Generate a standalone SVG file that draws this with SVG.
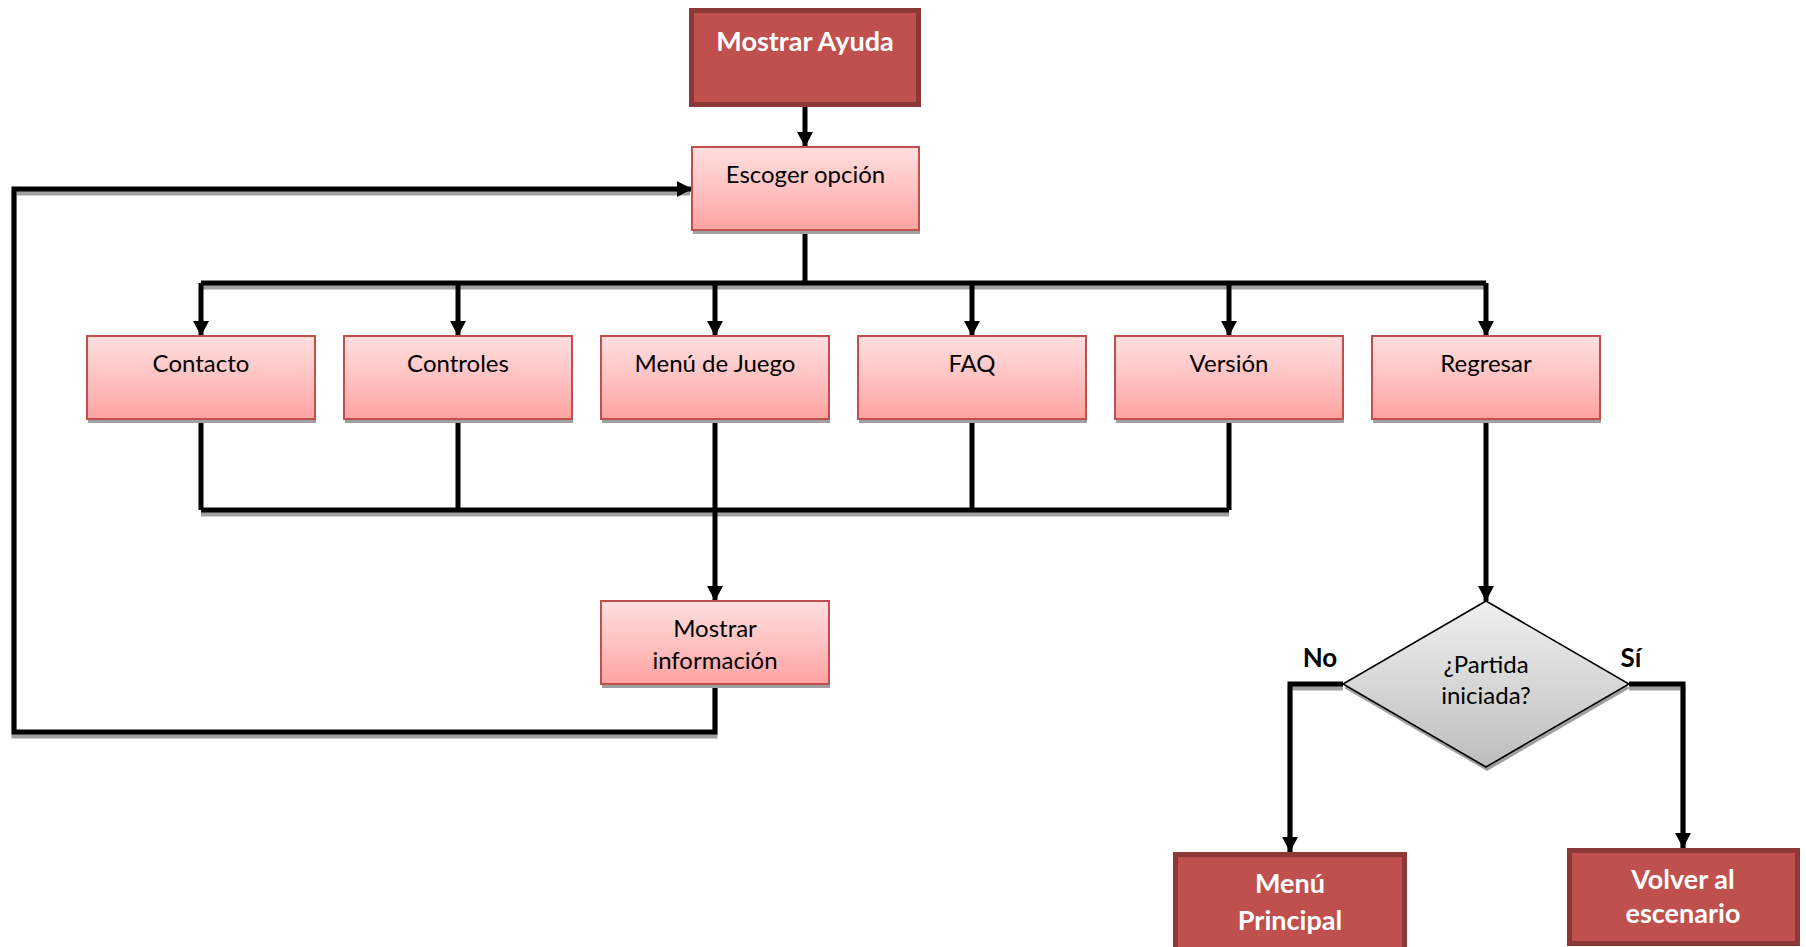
<svg xmlns="http://www.w3.org/2000/svg" width="1806" height="947" viewBox="0 0 1806 947">
<defs>
<linearGradient id="pink" x1="0" y1="0" x2="0" y2="1">
<stop offset="0" stop-color="#FFDFDF"/>
<stop offset="0.5" stop-color="#FFC2C2"/>
<stop offset="1" stop-color="#FFA3A2"/>
</linearGradient>
<linearGradient id="grey" x1="0" y1="0" x2="0" y2="1">
<stop offset="0" stop-color="#F0F0F0"/>
<stop offset="1" stop-color="#BDBDBD"/>
</linearGradient>
<marker id="arr" markerUnits="userSpaceOnUse" markerWidth="16" markerHeight="16" refX="15" refY="8" orient="auto">
<path d="M0,0 L15,8 L0,16 Z" fill="#000"/>
</marker>
</defs>
<style>
.lite{fill:url(#pink);stroke:#C0504D;stroke-width:2}
.dark{fill:#C0504D;stroke:#8C3836;stroke-width:5}
.shad{fill:#A0A0A0;stroke:none}
.dia{fill:url(#grey);stroke:#000;stroke-width:1.6}
.t{font-family:Lato,"Open Sans",sans-serif;font-size:24px;fill:#000;text-anchor:middle}
.tb{font-family:Lato,"Open Sans",sans-serif;font-size:27px;font-weight:bold;fill:#fff;text-anchor:middle}
.lb{font-family:Lato,"Open Sans",sans-serif;font-size:26px;font-weight:bold;fill:#000;text-anchor:middle}
.c{fill:none;stroke:#000;stroke-width:5}
.cs{fill:none;stroke:#A0A0A0;stroke-width:5}
</style>
<g id="connectors">
<g transform="translate(0,4)">
<path class="cs" d="M201,283 H1486"/>
<path class="cs" d="M201,510 H1229"/>
<path class="cs" d="M715,684 V732 H14 V189 H690"/>
<path class="cs" d="M1343,684 H1290 V850"/>
<path class="cs" d="M1629,684 H1683 V846"/>
</g>
<path class="c" d="M805,107 V147" marker-end="url(#arr)"/>
<path class="c" d="M805,230 V283"/>
<path class="c" d="M201,283 H1486"/>
<path class="c" d="M201,283 V336" marker-end="url(#arr)"/>
<path class="c" d="M458,283 V336" marker-end="url(#arr)"/>
<path class="c" d="M715,283 V336" marker-end="url(#arr)"/>
<path class="c" d="M972,283 V336" marker-end="url(#arr)"/>
<path class="c" d="M1229,283 V336" marker-end="url(#arr)"/>
<path class="c" d="M1486,283 V336" marker-end="url(#arr)"/>
<path class="c" d="M201,420 V510 M458,420 V510 M972,420 V510 M1229,420 V510"/>
<path class="c" d="M201,510 H1229"/>
<path class="c" d="M715,420 V601" marker-end="url(#arr)"/>
<path class="c" d="M715,684 V732 H14 V189 H692" marker-end="url(#arr)"/>
<path class="c" d="M1486,420 V601" marker-end="url(#arr)"/>
<path class="c" d="M1343,684 H1290 V852" marker-end="url(#arr)"/>
<path class="c" d="M1629,684 H1683 V848" marker-end="url(#arr)"/>
</g>
<g id="mostrar-ayuda">
<rect class="dark" x="691.5" y="10.5" width="227" height="94"/>
<text class="tb" x="805" y="51">Mostrar Ayuda</text>
</g>
<g id="escoger">
<rect class="shad" x="693" y="151" width="227" height="83"/>
<rect class="lite" x="692" y="147" width="227" height="83"/>
<text class="t" x="805.5" y="183">Escoger opción</text>
</g>
<g id="contacto">
<rect class="shad" x="88" y="340" width="228" height="83"/>
<rect class="lite" x="87" y="336" width="228" height="83"/>
<text class="t" x="201" y="372">Contacto</text>
</g>
<g id="controles">
<rect class="shad" x="345" y="340" width="228" height="83"/>
<rect class="lite" x="344" y="336" width="228" height="83"/>
<text class="t" x="458" y="372">Controles</text>
</g>
<g id="menu-juego">
<rect class="shad" x="602" y="340" width="228" height="83"/>
<rect class="lite" x="601" y="336" width="228" height="83"/>
<text class="t" x="715" y="372">Menú de Juego</text>
</g>
<g id="faq">
<rect class="shad" x="859" y="340" width="228" height="83"/>
<rect class="lite" x="858" y="336" width="228" height="83"/>
<text class="t" x="972" y="372">FAQ</text>
</g>
<g id="version">
<rect class="shad" x="1116" y="340" width="228" height="83"/>
<rect class="lite" x="1115" y="336" width="228" height="83"/>
<text class="t" x="1229" y="372">Versión</text>
</g>
<g id="regresar">
<rect class="shad" x="1373" y="340" width="228" height="83"/>
<rect class="lite" x="1372" y="336" width="228" height="83"/>
<text class="t" x="1486" y="372">Regresar</text>
</g>
<g id="mostrar-info">
<rect class="shad" x="602" y="605" width="228" height="83"/>
<rect class="lite" x="601" y="601" width="228" height="83"/>
<text class="t" x="715" y="637">Mostrar</text>
<text class="t" x="715" y="669">información</text>
</g>
<g id="partida">
<polygon class="shad" points="1487,605 1630,688 1487,771 1344,688"/>
<polygon class="dia" points="1486,601 1629,684 1486,767 1343,684"/>
<text class="t" x="1486" y="673">¿Partida</text>
<text class="t" x="1486" y="704">iniciada?</text>
</g>
<g id="labels">
<text class="lb" x="1320" y="667">No</text>
<text class="lb" x="1631" y="667">Sí</text>
</g>
<g id="menu-principal">
<rect class="dark" x="1175.5" y="854.5" width="229" height="100"/>
<text class="tb" x="1290" y="893">Menú</text>
<text class="tb" x="1290" y="930">Principal</text>
</g>
<g id="volver">
<rect class="dark" x="1569.5" y="850.5" width="228" height="93"/>
<text class="tb" x="1683" y="889">Volver al</text>
<text class="tb" x="1683" y="923">escenario</text>
</g>
</svg>
